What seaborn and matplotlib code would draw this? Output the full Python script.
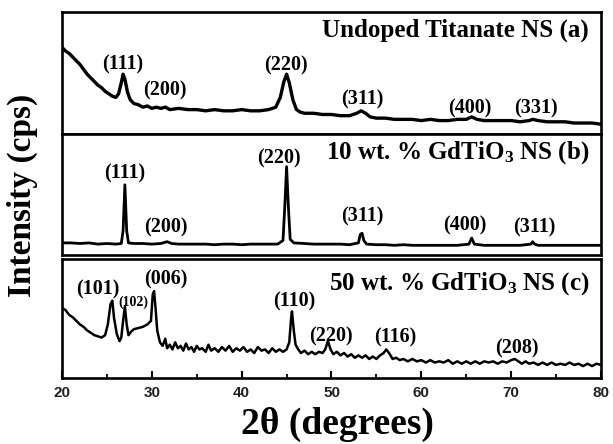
import matplotlib
matplotlib.use("Agg")
import matplotlib.pyplot as plt
import seaborn as sns
import pandas as pd
from matplotlib.ticker import MultipleLocator

sns.set_theme(style="white")
plt.rcParams["font.family"] = ["Liberation Serif", "DejaVu Serif"]
plt.rcParams["mathtext.fontset"] = "custom"
plt.rcParams["mathtext.rm"] = "Liberation Serif:bold"
plt.rcParams["mathtext.bf"] = "Liberation Serif:bold"
plt.rcParams["mathtext.it"] = "Liberation Serif:bold:italic"

# ---------------- data (2-theta, intensity in panel units 0-100) ----------------
a_points = [
    (20.0, 71), (20.4, 68), (20.8, 66), (21.2, 63), (21.6, 60), (22.0, 57), (22.4, 53), (22.8, 49),
    (23.2, 46), (23.6, 43), (24.0, 40), (24.4, 38), (24.8, 35), (25.2, 33), (25.6, 31), (26.0, 30),
    (26.3, 33), (26.6, 42), (26.8, 49), (27.0, 45), (27.3, 34), (27.6, 28), (28.0, 25), (28.5, 24),
    (29.0, 22), (29.5, 23), (30.0, 21), (30.5, 22), (31.0, 21), (31.5, 22), (32.0, 20), (33, 21),
    (34, 20), (35, 20), (36, 19), (37, 20), (38, 19), (39, 19), (40, 20), (41, 19), (42, 19),
    (43, 20), (43.8, 22), (44.3, 30), (44.7, 43), (45.0, 49), (45.3, 42), (45.7, 28), (46.1, 20),
    (46.5, 18), (47, 17), (48, 17), (49, 16), (50, 16), (51, 15), (52, 15), (52.8, 17), (53.3, 19),
    (53.8, 17), (54.3, 14), (55, 13), (56, 13), (57, 12), (58, 12), (59, 12), (60, 11), (61, 12),
    (62, 11), (63, 11), (64, 12), (65.0, 12), (65.6, 14), (66.2, 12), (67, 11), (68, 11), (69, 11),
    (70, 11), (71, 10), (72, 11), (72.4, 12), (73, 11), (74, 10), (75, 10), (76, 10), (77, 9),
    (78, 9), (79, 9), (80, 8),
]

b_points = [
    (20, 10), (21, 10), (22, 9.5), (23, 10), (24, 9), (25, 9.5), (26, 9), (26.6, 9.5), (26.8, 20),
    (27.0, 58), (27.2, 20), (27.4, 10), (28, 9.5), (29, 9.5), (30, 9), (31, 9.5), (31.7, 11),
    (32.2, 9.5), (33, 9), (34, 9), (35, 9), (36, 9), (37, 8.5), (38, 9), (39, 9), (40, 8.5), (41, 9),
    (42, 9), (43, 9), (44, 9), (44.6, 12), (44.8, 40), (45.0, 73), (45.2, 40), (45.4, 13),
    (45.8, 10), (47, 9.5), (48, 9), (49, 9), (50, 9), (51, 9), (52, 8.5), (53.0, 10), (53.2, 17),
    (53.4, 18), (53.6, 12), (53.9, 9), (55, 8.5), (56, 8.5), (57, 8), (58, 8.5), (59, 8), (60, 8),
    (61, 8), (62, 8), (63, 8), (64, 8), (65.3, 9), (65.6, 14), (65.9, 9), (67, 8), (68, 8), (69, 8),
    (70, 8), (71, 8), (72.2, 9), (72.4, 11), (72.6, 9), (73, 8), (74, 8), (75, 8), (76, 8), (77, 8),
    (78, 8), (79, 8), (80, 8),
]

c_points = [
    (20.0, 59), (20.4, 57), (20.8, 53), (21.2, 51), (21.6, 48), (22.0, 45), (22.4, 43), (22.8, 40),
    (23.2, 38), (23.6, 36), (24.0, 35), (24.4, 34), (24.8, 36), (25.1, 45), (25.4, 62), (25.6, 65),
    (25.8, 50), (26.1, 37), (26.4, 31), (26.6, 34), (26.8, 48), (27.0, 60), (27.2, 45), (27.4, 36),
    (27.7, 39), (28.0, 41), (28.5, 42), (29.0, 43), (29.5, 45), (29.9, 48), (30.1, 70), (30.25, 73),
    (30.4, 60), (30.6, 40), (30.9, 30), (31.2, 27), (31.5, 33), (31.7, 25), (32.0, 28), (32.3, 24),
    (32.6, 30), (32.9, 25), (33.2, 27), (33.5, 23), (33.8, 29), (34.1, 24), (34.4, 26), (34.7, 22),
    (35, 27), (35.3, 24), (35.6, 25), (36, 22), (36.3, 28), (36.6, 23), (37, 25), (37.4, 22),
    (37.8, 26), (38.2, 23), (38.6, 27), (39, 22), (39.4, 25), (39.8, 23), (40.2, 26), (40.6, 22),
    (41, 24), (41.4, 21), (41.8, 26), (42.2, 23), (42.6, 24), (43, 21), (43.4, 25), (43.8, 22),
    (44.2, 24), (44.6, 22), (45.0, 24), (45.3, 30), (45.5, 50), (45.6, 56), (45.8, 40), (46.0, 28),
    (46.3, 24), (46.6, 21), (47, 23), (47.4, 20), (47.8, 22), (48.2, 20), (48.6, 22), (49.0, 21),
    (49.3, 24), (49.6, 31), (49.9, 24), (50.2, 20), (50.6, 22), (51, 19), (51.4, 21), (51.8, 18),
    (52.2, 20), (52.6, 17), (53, 19), (53.4, 17), (53.8, 19), (54.2, 16), (54.6, 18), (55, 16),
    (55.4, 19), (55.8, 21), (56.1, 24), (56.4, 21), (56.8, 16), (57.2, 17), (57.6, 15), (58, 16),
    (58.5, 14), (59, 16), (59.5, 14), (60, 15), (60.5, 13), (61, 15), (61.5, 13), (62, 14),
    (62.5, 13), (63, 15), (63.5, 12), (64, 14), (64.5, 12), (65, 14), (65.5, 12), (66, 14),
    (66.5, 12), (67, 14), (67.5, 13), (68, 14), (68.5, 12), (69, 14), (69.5, 13), (70, 15),
    (70.4, 16), (70.8, 14), (71.2, 12), (71.6, 14), (72, 12), (72.5, 13), (73, 11), (73.5, 13),
    (74, 11), (74.5, 13), (75, 11), (75.5, 12), (76, 11), (76.5, 13), (77, 11), (77.5, 12),
    (78, 10), (78.5, 12), (79, 10), (79.5, 12), (80, 11),
]

a_title = "Undoped Titanate NS (a)"
b_title = "10 wt. % GdTiO$_3$ NS (b)"
c_title = "50 wt. % GdTiO$_3$ NS (c)"

a_labels = ["(111)", "(200)", "(220)", "(311)", "(400)", "(331)"]
a_label_x = [26.8, 31.4, 44.9, 53.4, 65.4, 72.8]
a_label_y = [57, 36, 56, 28, 21, 21]

b_labels = ["(111)", "(200)", "(220)", "(311)", "(400)", "(311)"]
b_label_x = [27.0, 31.6, 44.1, 53.4, 64.8, 72.6]
b_label_y = [67, 23, 80, 32, 24, 23]

c_labels = ["(101)", "(102)", "(006)", "(110)", "(220)", "(116)", "(208)"]
c_label_x = [24.0, 27.9, 31.6, 45.9, 49.9, 57.1, 70.6]
c_label_y = [74, 64, 83, 64, 35, 34, 25]
c_label_small = [False, True, False, False, False, False, False]

x_ticks = [20, 30, 40, 50, 60, 70, 80]

# ---------------- layout ----------------
W, H = 613, 444
fig = plt.figure(figsize=(W / 100, H / 100), dpi=100)
left = 62 / W
width = 539 / W


def panel(top_px, bottom_px):
    return fig.add_axes([left, 1 - bottom_px / H, width, (bottom_px - top_px) / H])


ax_a = panel(12, 134)
ax_b = panel(134, 255)
ax_c = panel(259, 378)

panels = [
    (ax_a, a_points, a_title, a_labels, a_label_x, a_label_y, None, 2.4, 0.85),
    (ax_b, b_points, b_title, b_labels, b_label_x, b_label_y, None, 2.0, 0.85),
    (ax_c, c_points, c_title, c_labels, c_label_x, c_label_y, c_label_small, 1.8, 0.79),
]

for ax, pts, title, labs, lx, ly, small, lw, ty in panels:
    df = pd.DataFrame(pts, columns=["two_theta", "intensity"])
    sns.lineplot(data=df, x="two_theta", y="intensity", ax=ax, color="black",
                 linewidth=lw, estimator=None, sort=False)
    ax.set_xlim(20, 80)
    ax.set_ylim(0, 100)
    ax.set_xlabel("")
    ax.set_ylabel("")
    ax.set_yticks([])
    for s in ax.spines.values():
        s.set_visible(True)
        s.set_color("black")
        s.set_linewidth(1.9)
    ax.text(0.978, ty, title, transform=ax.transAxes,
            ha="right", va="center", fontsize=18, fontweight="bold", color="black")
    for i, (t, x, y) in enumerate(zip(labs, lx, ly)):
        fs = 10 if (small is not None and small[i]) else 14.5
        ax.text(x, y, t, ha="center", va="center", fontsize=fs, fontweight="bold", color="black")

for ax in (ax_a, ax_b):
    ax.set_xticks([])

ax_c.set_xticks(x_ticks)
ax_c.set_xticklabels([str(v) for v in x_ticks], fontfamily="Liberation Sans",
                     fontweight="bold", fontsize=11, color="#222222")
ax_c.xaxis.set_minor_locator(MultipleLocator(5))
ax_c.tick_params(axis="x", which="major", direction="in", length=5, width=1.5,
                 bottom=True, pad=6, color="black")
ax_c.tick_params(axis="x", which="minor", direction="in", length=3, width=1.3,
                 bottom=True, color="black")

fig.text(0.036, 0.561, "Intensity (cps)", rotation=90, ha="center", va="center",
         fontsize=24, fontweight="bold", color="black")
fig.text(0.55, 0.043, "2θ (degrees)", ha="center", va="center",
         fontsize=27, fontweight="bold", color="black")

fig.savefig("out.png", dpi=100, facecolor="white")
